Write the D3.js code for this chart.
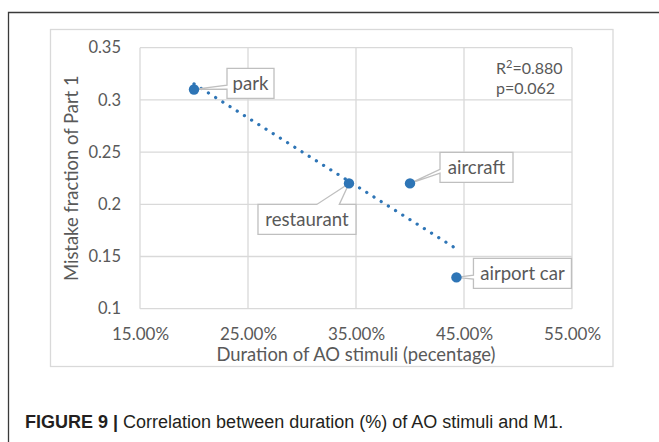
<!DOCTYPE html>
<html><head><meta charset="utf-8">
<script src="https://cdn.jsdelivr.net/npm/d3@7"></script>
<style>
html,body{margin:0;padding:0;background:#fff;}
svg{display:block;}
</style></head>
<body>
<svg id="c" width="659" height="442"></svg>
<script>
// ---- data ----
const pointNames = ["park", "restaurant", "aircraft", "airport car"];
const durationAO = [0.200, 0.3435, 0.400, 0.443];
const mistakeFraction = [0.31, 0.22, 0.22, 0.13];
const xTicks = [0.15, 0.25, 0.35, 0.45, 0.55];
const yTicks = [0.1, 0.15, 0.2, 0.25, 0.3, 0.35];
const r2Text = ["R", "2", "=0.880"];
const pText = "p=0.062";
const xTitle = "Duration of AO stimuli (pecentage)";
const yTitle = "Mistake fraction of Part 1";
const captionBold = "FIGURE 9 |";
const captionText = " Correlation between duration (%) of AO stimuli and M1.";

// ---- layout (not data) ----
const labelLayout = [
  {dx: 33, dy: -21, w: 47, h: 30, side: "left"},
  {dx: -91, dy: 21, w: 98, h: 30, side: "top"},
  {dx: 30, dy: -31, w: 73, h: 30, side: "left"},
  {dx: 17, dy: -19, w: 98, h: 30, side: "left"}
];
const FONT = "Lato, 'Open Sans', sans-serif";
const GRAY = "#595959";
const BLUE = "#2e75b6";

const svg = d3.select("#c");
const P = {left: 140, right: 572, top: 47.7, bottom: 308.7};

const x = d3.scaleLinear().domain([0.15, 0.55]).range([P.left, P.right]);
const y = d3.scaleLinear().domain([0.1, 0.35]).range([P.bottom, P.top]);

// outer frame
svg.append("path").attr("d", "M8.5,442 V12.5 H659").attr("fill", "none")
  .attr("stroke", "#3a3a3a").attr("stroke-width", 1.3);

// chart area border
svg.append("rect").attr("x", 50.5).attr("y", 29.5).attr("width", 562.5).attr("height", 337)
  .attr("fill", "#fff").attr("stroke", "#d9d9d9").attr("stroke-width", 1.3);

// gridlines
const g = svg.append("g");
g.append("g").selectAll("line").data(xTicks).join("line")
  .attr("x1", d => x(d)).attr("x2", d => x(d)).attr("y1", P.top).attr("y2", P.bottom)
  .attr("stroke", "#d9d9d9").attr("stroke-width", 1.3);
g.append("g").selectAll("line").data(yTicks).join("line")
  .attr("y1", d => y(d)).attr("y2", d => y(d)).attr("x1", P.left).attr("x2", P.right)
  .attr("stroke", "#d9d9d9").attr("stroke-width", 1.3);

// axes via d3 axis (labels only)
const xAxis = d3.axisBottom(x).tickValues(xTicks).tickFormat(d3.format(".2%")).tickSize(0).tickPadding(0);
const xa = svg.append("g").attr("transform", `translate(0,${P.bottom + 25})`).call(xAxis);
xa.select(".domain").remove();
xa.selectAll("text").attr("font-family", FONT).attr("font-size", 17).attr("fill", GRAY).attr("dy", "0.36em");

const yAxis = d3.axisLeft(y).tickValues(yTicks).tickFormat(d => String(+d.toFixed(2))).tickSize(0).tickPadding(0);
const ya = svg.append("g").attr("transform", `translate(${P.left - 19},0)`).call(yAxis);
ya.select(".domain").remove();
ya.selectAll("text").attr("font-family", FONT).attr("font-size", 16.5).attr("fill", GRAY);

// axis titles
svg.append("text").attr("x", (P.left + P.right) / 2).attr("y", 354).attr("dy", "0.36em")
  .attr("text-anchor", "middle").attr("font-family", FONT).attr("font-size", 18.4).attr("fill", GRAY)
  .text(xTitle);
svg.append("text").attr("transform", `translate(71,${(P.top + P.bottom) / 2}) rotate(-90)`)
  .attr("dy", "0.36em").attr("text-anchor", "middle").attr("font-family", FONT)
  .attr("font-size", 18.4).attr("fill", GRAY).text(yTitle);

// trendline (least squares from the data)
const n = durationAO.length;
const mx = d3.mean(durationAO), my = d3.mean(mistakeFraction);
let sxy = 0, sxx = 0;
for (let i = 0; i < n; i++) { sxy += (durationAO[i] - mx) * (mistakeFraction[i] - my); sxx += (durationAO[i] - mx) ** 2; }
const slope = sxy / sxx, icpt = my - slope * mx;
const x0 = d3.min(durationAO), x1 = d3.max(durationAO);
svg.append("line").attr("x1", x(x0)).attr("y1", y(icpt + slope * x0))
  .attr("x2", x(x1)).attr("y2", y(icpt + slope * x1))
  .attr("stroke", BLUE).attr("stroke-width", 3.2).attr("stroke-linecap", "round")
  .attr("stroke-dasharray", "0.1 8.4");

// points
const pts = pointNames.map((name, i) => ({name, cx: x(durationAO[i]), cy: y(mistakeFraction[i]), L: labelLayout[i]}));

// callouts
const cg = svg.append("g");
pts.forEach(p => {
  const L = p.L;
  const bx = p.cx + L.dx, by = p.cy + L.dy, w = L.w, h = L.h;
  let d;
  if (L.side === "left") {
    const a = by + 0.56 * h, b = by + 0.69 * h;
    d = `M${bx},${by} H${bx + w} V${by + h} H${bx} V${b} L${p.cx},${p.cy} L${bx},${a} Z`;
  } else {
    const a = bx + 0.6 * w, b = bx + 0.83 * w;
    d = `M${bx},${by} H${a} L${p.cx},${p.cy} L${b},${by} H${bx + w} V${by + h} H${bx} Z`;
  }
  cg.append("path").attr("d", d).attr("fill", "#fff").attr("stroke", "#bfbfbf").attr("stroke-width", 1.3)
    .attr("stroke-linejoin", "miter");
  cg.append("text").attr("x", bx + w / 2).attr("y", by + h / 2).attr("dy", "0.36em")
    .attr("text-anchor", "middle").attr("font-family", FONT).attr("font-size", 18.6).attr("fill", GRAY)
    .text(p.name);
});

svg.append("g").selectAll("circle").data(pts).join("circle")
  .attr("cx", d => d.cx).attr("cy", d => d.cy).attr("r", 5.2).attr("fill", BLUE);

// stats
const st = svg.append("g").attr("font-family", FONT).attr("font-size", 16).attr("fill", GRAY);
const r2 = st.append("text").attr("x", 496).attr("y", 74);
r2.append("tspan").text(r2Text[0]);
r2.append("tspan").attr("font-size", 11).attr("dy", -6).text(r2Text[1]);
r2.append("tspan").attr("dy", 6).text(r2Text[2]);
st.append("text").attr("x", 496).attr("y", 93.5).text(pText);

// caption
const cap = svg.append("text").attr("x", 25).attr("y", 421.5).attr("dy", "0.36em")
  .attr("font-family", "'Liberation Sans', Arial, sans-serif").attr("font-size", 18).attr("fill", "#231f20");
cap.append("tspan").attr("font-weight", "bold").text(captionBold);
cap.append("tspan").text(captionText);
</script>
</body></html>
